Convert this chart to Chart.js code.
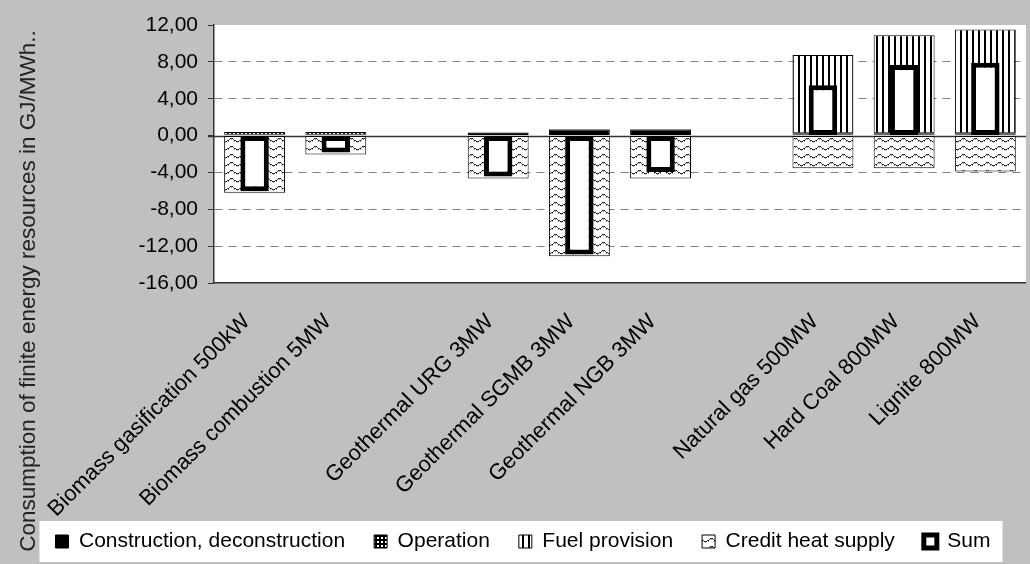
<!DOCTYPE html>
<html>
<head>
<meta charset="utf-8">
<script src="https://cdn.jsdelivr.net/npm/chart.js@4.4.1/dist/chart.umd.min.js"></script>
<style>
    html, body { margin: 0; padding: 0; background: #c0c0c0; }
</style>
</head>
<body>
<canvas id="chart" width="1030" height="564"></canvas>
<script>
    // values, GJ/MWh
    var categories = ['Biomass gasification 500kW', 'Biomass combustion 5MW', '',
        'Geothermal URG 3MW', 'Geothermal SGMB 3MW', 'Geothermal NGB 3MW', '',
        'Natural gas 500MW', 'Hard Coal 800MW', 'Lignite 800MW'];
    var construction = [0.1, 0.1, null, 0.3, 0.65, 0.65, null, 0.1, 0.1, 0.1];
    var operation = [0.3, 0.3, null, 0.05, 0.05, 0.05, null, 0.15, 0.15, 0.15];
    var fuelProvision = [0, 0, null, 0, 0, 0, null, 8.5, 10.65, 11.25];
    var creditHeat = [-6.2, -2.05, null, -4.65, -13.1, -4.65, null, -3.55, -3.55, -3.9];
    var sum = [-6.05, -1.85, null, -4.45, -12.9, -3.95, null, 5.45, 7.65, 7.9];
    var yTicks = [12, 8, 4, 0, -4, -8, -12, -16];

    var FONT = 'Liberation Sans, Arial, sans-serif';
    var canvas = document.getElementById('chart');
    var ctx = canvas.getContext('2d');

    function makePattern(w, h, draw) {
        var c = document.createElement('canvas');
        c.width = w;
        c.height = h;
        var g = c.getContext('2d');
        draw(g);
        return ctx.createPattern(c, 'repeat');
    }

    // small dots
    var operationFill = makePattern(4, 4, function (g) {
        g.fillStyle = '#000';
        g.fillRect(0, 0, 4, 4);
        g.fillStyle = '#fff';
        g.fillRect(1, 1, 2, 2);
    });

    // vertical stripes
    var fuelFill = makePattern(6, 6, function (g) {
        g.fillStyle = '#fff';
        g.fillRect(0, 0, 6, 6);
        g.fillStyle = '#000';
        g.fillRect(0, 0, 2, 6);
    });

    // dotted waves
    var creditFill = makePattern(12, 8, function (g) {
        g.fillStyle = '#fff';
        g.fillRect(0, 0, 12, 8);
        for (var x = 0; x < 12; x++) {
            var y = Math.round(3.5 - 1.6 * Math.sin(2 * Math.PI * x / 12));
            g.fillStyle = (x % 2) ? '#555' : '#000';
            g.fillRect(x, y, 1, 1);
            if (x % 3 === 0) {
                g.fillStyle = '#999';
                g.fillRect(x, y + 1, 1, 1);
            }
        }
    });

    function fmt(v) {
        return v.toFixed(2).replace('.', ',');
    }

    var backdrop = {
        id: 'backdrop',
        beforeDraw: function (chart) {
            var c = chart.ctx;
            var a = chart.chartArea;
            c.save();
            c.fillStyle = '#c0c0c0';
            c.fillRect(0, 0, chart.width, chart.height);
            c.fillStyle = '#fff';
            c.fillRect(a.left, a.top, a.right - a.left, a.bottom - a.top);
            // white legend box
            var hb = chart.legend.legendHitBoxes;
            if (hb && hb.length) {
                var l = hb[0].left, r = hb[hb.length - 1].left + hb[hb.length - 1].width;
                c.fillRect(l - 16, hb[0].top - 10, r - l + 28, hb[0].height + 20);
            }
            c.restore();
        },
        beforeDatasetsDraw: function (chart) {
            var c = chart.ctx;
            var a = chart.chartArea;
            var y0 = Math.round(chart.scales.y.getPixelForValue(0)) + 0.5;
            c.save();
            c.strokeStyle = '#333';
            c.lineWidth = 1.5;
            c.beginPath();
            c.moveTo(a.left - 6, y0);
            c.lineTo(a.right, y0);
            c.stroke();
            c.restore();
        },
        afterDraw: function (chart) {
            var c = chart.ctx;
            c.save();
            c.translate(29, 291);
            c.rotate(-Math.PI / 2);
            c.font = '22.5px ' + FONT;
            c.fillStyle = '#222';
            c.textAlign = 'center';
            c.textBaseline = 'middle';
            c.fillText('Consumption of finite energy resources in GJ/MWh..', 0, 0);
            c.restore();
        }
    };

    var component = {
        borderColor: '#000',
        borderWidth: 1,
        borderSkipped: false,
        barPercentage: 0.75,
        categoryPercentage: 1,
        grouped: false,
        stack: 'parts',
        order: 1
    };

    new Chart(ctx, {
        type: 'bar',
        data: {
            labels: categories,
            datasets: [
                Object.assign({ label: 'Construction, deconstruction', data: construction, backgroundColor: '#000' }, component),
                Object.assign({ label: 'Operation', data: operation, backgroundColor: operationFill }, component),
                Object.assign({ label: 'Fuel provision', data: fuelProvision, backgroundColor: fuelFill }, component),
                Object.assign({ label: 'Credit heat supply', data: creditHeat, backgroundColor: creditFill }, component),
                {
                    label: 'Sum',
                    data: sum,
                    backgroundColor: '#fff',
                    borderColor: '#000',
                    borderWidth: 5,
                    borderSkipped: false,
                    barPercentage: 0.35,
                    categoryPercentage: 1,
                    grouped: false,
                    stack: 'sum',
                    order: 0
                }
            ]
        },
        options: {
            responsive: false,
            animation: false,
            layout: { padding: { top: 25, left: 16, right: 0, bottom: 2 } },
            plugins: {
                tooltip: { enabled: false },
                title: { display: false },
                legend: {
                    position: 'bottom',
                    labels: {
                        color: '#000',
                        font: { family: FONT, size: 21 },
                        boxWidth: 13,
                        boxHeight: 13,
                        padding: 29,
                        sort: function (a, b) { return a.datasetIndex - b.datasetIndex; }
                    }
                }
            },
            scales: {
                x: {
                    stacked: true,
                    offset: true,
                    grid: { display: false, drawTicks: false },
                    border: { display: true, color: '#333', width: 1.5 },
                    ticks: {
                        autoSkip: false,
                        minRotation: 45,
                        maxRotation: 45,
                        padding: 26,
                        labelOffset: -8,
                        color: '#000',
                        font: { family: FONT, size: 22 }
                    },
                    afterFit: function (scale) {
                        var lg = scale.chart.legend ? scale.chart.legend.height : 40;
                        scale.height = scale.chart.height - 283 - lg - 2;
                        // long rotated labels run past the axis box, don't clip them
                        scale._computeLabelArea = function () {};
                    }
                },
                y: {
                    stacked: true,
                    min: -16,
                    max: 12,
                    afterBuildTicks: function (scale) {
                        scale.ticks = yTicks.map(function (v) { return { value: v }; });
                    },
                    grid: {
                        color: function (c) {
                            var v = c.tick ? c.tick.value : null;
                            return (v === 0 || v === 12 || v === -16) ? 'rgba(0,0,0,0)' : '#808080';
                        },
                        tickColor: '#333',
                        tickLength: 6,
                        tickBorderDash: [],
                        lineWidth: 1
                    },
                    border: { display: true, color: '#333', width: 1.5, dash: [8, 6] },
                    ticks: {
                        padding: 10,
                        color: '#000',
                        font: { family: FONT, size: 21 },
                        callback: function (v) { return fmt(v); }
                    },
                    afterFit: function (scale) {
                        scale.width = 198;
                    }
                }
            }
        },
        plugins: [backdrop]
    });
</script>
</body>
</html>
